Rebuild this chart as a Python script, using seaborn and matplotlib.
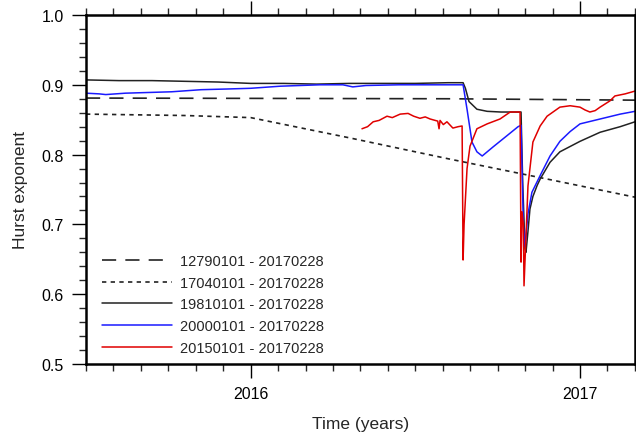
import numpy as np
import pandas as pd
import seaborn as sns
import matplotlib
matplotlib.use("Agg")
import matplotlib.pyplot as plt
from matplotlib.ticker import MultipleLocator, FixedLocator

# ---------------- data (decimal years, Hurst exponent) ----------------
t_1279 = [2015.5, 2016.6, 2017.167]
h_1279 = [0.881, 0.880, 0.878]

t_1704 = [2015.5, 2015.8, 2016.0, 2016.3, 2016.6, 2016.9, 2017.167]
h_1704 = [0.858, 0.856, 0.853, 0.824, 0.794, 0.765, 0.739]

t_1981 = [2015.50, 2015.60, 2015.70, 2015.80, 2015.90, 2016.00, 2016.10, 2016.20,
          2016.30, 2016.40, 2016.50, 2016.60, 2016.645, 2016.652, 2016.663, 2016.687,
          2016.718, 2016.760, 2016.800, 2016.821, 2016.826, 2016.833, 2016.836,
          2016.842, 2016.848, 2016.857, 2016.870, 2016.879, 2016.909, 2016.939,
          2017.000, 2017.061, 2017.122, 2017.167]
h_1981 = [0.907, 0.906, 0.906, 0.905, 0.904, 0.902, 0.902, 0.901,
          0.902, 0.902, 0.902, 0.903, 0.903, 0.895, 0.876, 0.865,
          0.862, 0.861, 0.861, 0.861, 0.760, 0.665, 0.660,
          0.690, 0.722, 0.740, 0.756, 0.765, 0.789, 0.804,
          0.819, 0.832, 0.840, 0.847]

t_2000 = [2015.50, 2015.54, 2015.56, 2015.62, 2015.69, 2015.76, 2015.85, 2015.93,
          2016.00, 2016.09, 2016.15, 2016.21, 2016.28, 2016.31, 2016.35, 2016.45,
          2016.55, 2016.645, 2016.657, 2016.672, 2016.687, 2016.703, 2016.736,
          2016.778, 2016.812, 2016.821, 2016.828, 2016.833, 2016.842, 2016.854,
          2016.879, 2016.909, 2016.939, 2016.970, 2017.000, 2017.061, 2017.122,
          2017.167]
h_2000 = [0.888, 0.887, 0.886, 0.888, 0.889, 0.890, 0.893, 0.894,
          0.895, 0.898, 0.899, 0.900, 0.900, 0.897, 0.899, 0.900,
          0.900, 0.900, 0.865, 0.818, 0.804, 0.798, 0.811,
          0.827, 0.840, 0.842, 0.700, 0.668, 0.715, 0.746,
          0.770, 0.798, 0.819, 0.833, 0.844, 0.851, 0.858,
          0.862]

t_2015 = [2016.338, 2016.355, 2016.372, 2016.390, 2016.414, 2016.430, 2016.454,
          2016.478, 2016.495, 2016.514, 2016.530, 2016.545, 2016.560, 2016.568,
          2016.572, 2016.575, 2016.585, 2016.596, 2016.614, 2016.630, 2016.642,
          2016.645, 2016.648, 2016.657, 2016.666, 2016.687, 2016.718, 2016.757,
          2016.788, 2016.818, 2016.821, 2016.824, 2016.828, 2016.830, 2016.842,
          2016.857, 2016.879, 2016.900, 2016.909, 2016.939, 2016.970, 2017.000,
          2017.015, 2017.030, 2017.046, 2017.061, 2017.091, 2017.106, 2017.137,
          2017.167]
h_2015 = [0.837, 0.840, 0.847, 0.849, 0.855, 0.853, 0.858,
          0.859, 0.855, 0.852, 0.854, 0.851, 0.849, 0.848,
          0.837, 0.849, 0.843, 0.847, 0.838, 0.840, 0.841,
          0.649, 0.700, 0.780, 0.812, 0.837, 0.844, 0.851,
          0.861, 0.861, 0.646, 0.718, 0.700, 0.612, 0.755,
          0.818, 0.841, 0.855, 0.858, 0.868, 0.870, 0.868,
          0.864, 0.861, 0.863, 0.868, 0.877, 0.884, 0.887,
          0.891]

labels = ["12790101 - 20170228", "17040101 - 20170228", "19810101 - 20170228",
          "20000101 - 20170228", "20150101 - 20170228"]
xticks = [2016, 2017]
xticklabels = ["2016", "2017"]
yticks = [0.5, 0.6, 0.7, 0.8, 0.9, 1.0]

# ---------------- plot ----------------
sns.set_style("ticks")
plt.rcParams["font.family"] = ["Liberation Sans", "DejaVu Sans"]

fig = plt.figure(figsize=(6.36, 4.35), dpi=100)
ax = fig.add_axes([86/636, 1 - 365/435, (635 - 86)/636, (365 - 16)/435])

series = [
    (t_1279, h_1279, dict(color="#222222", lw=1.2, dashes=(8.5, 5.5))),
    (t_1704, h_1704, dict(color="#222222", lw=1.2, dashes=(2.6, 2.6))),
    (t_1981, h_1981, dict(color="#222222", lw=1.1)),
    (t_2000, h_2000, dict(color="#1a1aff", lw=1.1)),
    (t_2015, h_2015, dict(color="#e00000", lw=1.1)),
]
for (t, h, st), lab in zip(series, labels):
    df = pd.DataFrame({"t": t, "h": h})
    kw = dict(st)
    dashes = kw.pop("dashes", None)
    sns.lineplot(data=df, x="t", y="h", ax=ax, label=lab, sort=False,
                 color=kw["color"], linewidth=kw["lw"])
    if dashes is not None:
        ax.lines[-1].set_dashes(dashes)

ax.set_xlim(2015.5, 2017.167)
ax.set_ylim(0.5, 1.0)
ax.xaxis.set_major_locator(FixedLocator(xticks))
ax.set_xticklabels(xticklabels)
ax.xaxis.set_minor_locator(MultipleLocator(1/12))
ax.yaxis.set_major_locator(FixedLocator(yticks))
ax.yaxis.set_minor_locator(MultipleLocator(0.02))
ax.yaxis.set_major_formatter(matplotlib.ticker.FormatStrFormatter("%.1f"))

ax.tick_params(which="major", direction="out", length=10, width=1.0,
               labelsize=11.5, pad=6, top=True, right=False, colors="black")
ax.tick_params(which="minor", direction="out", length=5, width=1.0,
               top=True, right=False)
for s in ax.spines.values():
    s.set_linewidth(1.8)
    s.set_color("black")

ax.set_xlabel("Time (years)", fontsize=12.5, labelpad=11)
ax.set_ylabel("Hurst exponent", fontsize=12.5, labelpad=10)

leg = ax.legend(loc="lower left", bbox_to_anchor=(0.029, 0.026), frameon=False,
                fontsize=10.5, handlelength=4.8, handletextpad=0.55,
                labelspacing=0.53, borderpad=0, borderaxespad=0)

fig.savefig("out.png", dpi=100)
